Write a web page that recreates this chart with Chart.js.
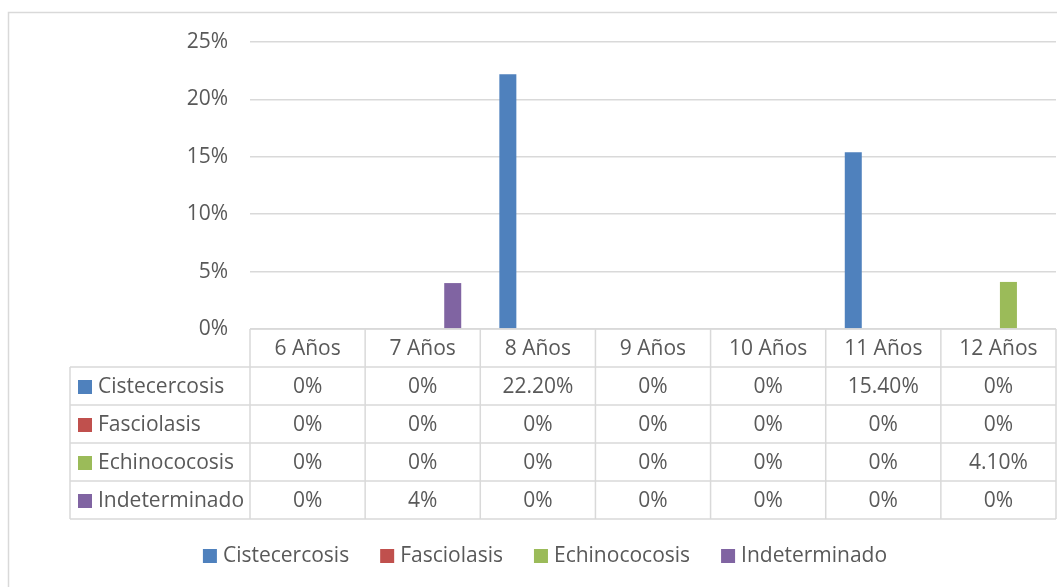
<!DOCTYPE html>
<html>
<head>
<meta charset="utf-8">
<script src="https://cdn.jsdelivr.net/npm/chart.js@4"></script>
<style>
  body { margin: 0; background: #fff; }
  #contenedor { position: relative; width: 1057px; height: 587px; }
</style>
</head>
<body>
<div id="contenedor"><canvas id="grafico"></canvas></div>
<script>
// Datos por edad (porcentajes)
const edades = ['6 Años', '7 Años', '8 Años', '9 Años', '10 Años', '11 Años', '12 Años'];
const series = ['Cistecercosis', 'Fasciolasis', 'Echinococosis', 'Indeterminado'];
const cistecercosis = [0, 0, 22.2, 0, 0, 15.4, 0];
const fasciolasis = [0, 0, 0, 0, 0, 0, 0];
const echinococosis = [0, 0, 0, 0, 0, 0, 4.1];
const indeterminado = [0, 4, 0, 0, 0, 0, 0];
const ticksY = [0, 5, 10, 15, 20, 25];

const colores = ['#4f81bd', '#c0504d', '#9bbb59', '#8064a2'];
const fuente = '"Open Sans", sans-serif';
const gris = '#595959';
const linea = '#d9d9d9';

function formato(v) {
  if (v === 0) return '0%';
  return Number.isInteger(v) ? v + '%' : v.toFixed(2) + '%';
}

// Marco exterior del gráfico
const marco = {
  id: 'marco',
  beforeDraw(chart) {
    const ctx = chart.ctx;
    ctx.save();
    ctx.fillStyle = '#fff';
    ctx.fillRect(0, 0, chart.width, chart.height);
    ctx.strokeStyle = linea;
    ctx.lineWidth = 1.5;
    ctx.strokeRect(8.5, 12.5, 1200, 800);
    ctx.restore();
  }
};

// Tabla de datos bajo el eje X y leyenda
const tablaDatos = {
  id: 'tablaDatos',
  afterDraw(chart) {
    const { ctx, chartArea, scales: { x } } = chart;
    const ancho = x.width / edades.length;
    const arriba = chartArea.bottom;
    const fila = 38;
    const izq = 70;
    const der = chartArea.right;

    const raya = (x1, y1, x2, y2) => {
      ctx.beginPath();
      ctx.moveTo(x1, y1);
      ctx.lineTo(x2, y2);
      ctx.stroke();
    };

    ctx.save();
    ctx.strokeStyle = linea;
    ctx.lineWidth = 1.5;
    raya(x.left, arriba, der, arriba);
    for (let r = 1; r <= 5; r++) raya(izq, arriba + r * fila, der, arriba + r * fila);
    raya(izq, arriba + fila, izq, arriba + 5 * fila);
    for (let i = 0; i <= edades.length; i++) {
      const xx = x.left + i * ancho;
      raya(xx, arriba, xx, arriba + 5 * fila);
    }

    ctx.font = '21px ' + fuente;
    ctx.fillStyle = gris;
    ctx.textBaseline = 'middle';
    ctx.textAlign = 'center';
    edades.forEach((e, i) => {
      ctx.fillText(e, x.getPixelForValue(i), arriba + fila / 2 + 1);
    });

    chart.data.datasets.forEach((ds, r) => {
      const yc = arriba + (r + 1) * fila + fila / 2 + 1;
      ctx.fillStyle = ds.backgroundColor;
      ctx.fillRect(78, yc - 7, 14, 14);
      ctx.fillStyle = gris;
      ctx.textAlign = 'left';
      ctx.fillText(ds.label, 98, yc);
      ctx.textAlign = 'center';
      ds.data.forEach((v, i) => {
        ctx.fillText(formato(v), x.getPixelForValue(i), yc);
      });
    });

    // Leyenda
    const sep = 31;
    const anchos = chart.data.datasets.map(ds => 13 + 7 + ctx.measureText(ds.label).width);
    const total = anchos.reduce((a, b) => a + b, 0) + sep * (anchos.length - 1);
    let px = 545 - total / 2;
    const ly = 556;
    ctx.textAlign = 'left';
    chart.data.datasets.forEach((ds, r) => {
      ctx.fillStyle = ds.backgroundColor;
      ctx.fillRect(px, ly - 7, 14, 14);
      ctx.fillStyle = gris;
      ctx.fillText(ds.label, px + 20, ly);
      px += anchos[r] + sep;
    });
    ctx.restore();
  }
};

const datosSeries = [cistecercosis, fasciolasis, echinococosis, indeterminado];

new Chart(document.getElementById('grafico'), {
  type: 'bar',
  data: {
    labels: edades,
    datasets: series.map((s, i) => ({
      label: s,
      data: datosSeries[i],
      backgroundColor: colores[i],
      categoryPercentage: 0.695,
      barPercentage: 0.85
    }))
  },
  options: {
    responsive: true,
    maintainAspectRatio: false,
    animation: false,
    layout: { padding: { top: 42, right: 1, bottom: 258, left: 0 } },
    plugins: {
      legend: { display: false },
      tooltip: { enabled: false }
    },
    scales: {
      x: { display: false },
      y: {
        min: 0,
        max: 25,
        afterBuildTicks: scale => { scale.ticks = ticksY.map(v => ({ value: v })); },
        afterFit: scale => { scale.width = 250; },
        grid: { color: linea, lineWidth: 1.5, drawTicks: false },
        border: { display: false },
        ticks: {
          padding: 22,
          color: gris,
          font: { family: fuente, size: 21 },
          callback: v => v + '%'
        }
      }
    }
  },
  plugins: [marco, tablaDatos]
});
</script>
</body>
</html>
